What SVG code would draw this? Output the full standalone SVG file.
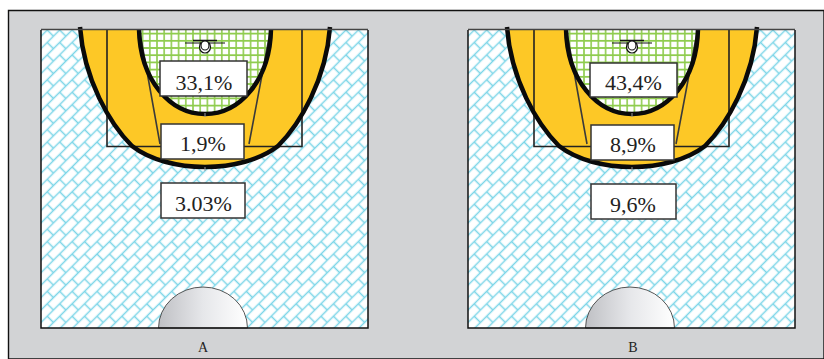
<svg xmlns="http://www.w3.org/2000/svg" xmlns:xlink="http://www.w3.org/1999/xlink" width="824" height="359" viewBox="0 0 824 359">
<style>
.box{fill:#fff;stroke:#333;stroke-width:1.5}
.pct{font-family:"Liberation Serif","Times New Roman",serif;font-size:22px;fill:#222;text-anchor:middle}
.cap{font-family:"Liberation Serif","Times New Roman",serif;font-size:14px;fill:#222;text-anchor:middle}
.thick{fill:none;stroke:#0a0a0a;stroke-width:4.5}
.thin{fill:none;stroke:#222;stroke-width:1.6}
.key{fill:none;stroke:#3a3a3a;stroke-width:1.6}
.tick{fill:none;stroke:#999;stroke-width:1}
</style>
<defs>
<pattern id="brick" width="17.6" height="17.6" patternUnits="userSpaceOnUse" patternTransform="translate(41 30) rotate(-45)">
<rect width="17.6" height="17.6" fill="#fff"/>
<path d="M0 4.400H17.600M0 13.200H17.600M4.400 4.400V13.200M13.200 13.200V22M13.200 -4.400V4.400" fill="none" stroke="#7dd6e8" stroke-width="1.5"/>
</pattern>
<pattern id="grid" width="7.2" height="7.2" patternUnits="userSpaceOnUse" patternTransform="translate(139 30)">
<rect width="7.2" height="7.2" fill="#fff"/>
<path d="M3.6 0V7.2M0 3.6H7.2" fill="none" stroke="#8fcc4e" stroke-width="1.6"/>
</pattern>
<linearGradient id="shade" x1="0" x2="1" y1="0" y2="0">
<stop offset="0" stop-color="#bfc0c4"/><stop offset="0.5" stop-color="#e6e7ea"/><stop offset="1" stop-color="#fff"/>
</linearGradient>
<g id="court">
<rect x="41" y="30" width="327" height="298" fill="url(#brick)"/>
<path d="M158.500 328A44.500 41 0 0 1 247.500 328Z" fill="url(#shade)" stroke="#555" stroke-width="1"/>
<path d="M80 29C84 80 110 124 132 146C150 160 178 167 205 167C232 167 260 160 278 146C300 124 326 80 330 29Z" fill="#fdc826"/>
<path d="M139 30C140 80 170 114 205 114C240 114 270 80 271 30Z" fill="url(#grid)"/>
<path class="thin" d="M107 30V146.500H302V30"/>
<path class="key" d="M139.500 30L160 144M270.500 30L249 144"/>
<path class="thick" d="M139 29C140 80 170 114 205 114C240 114 270 80 271 29"/>
<path class="thick" d="M80 27C84 80 110 124 132 146C150 160 178 167 205 167C232 167 260 160 278 146C300 124 326 80 330 27" stroke-width="5"/>
<path class="tick" d="M205 113V117M205 167V171"/>
<path d="M41 29.500H368" fill="none" stroke="#444" stroke-width="1.5"/>
<path d="M41 30V328H368V30" fill="none" stroke="#111" stroke-width="1.5"/>
<g id="hoop-shape">
<path d="M185 43H225" stroke="#111" stroke-width="1.2" fill="none"/>
<path d="M193 40.500H217" stroke="#111" stroke-width="1.5" fill="none"/>
<ellipse cx="205" cy="47" rx="5.500" ry="6" fill="#fff" stroke="#111" stroke-width="1.2"/>
<ellipse cx="205" cy="45.500" rx="4" ry="4.500" fill="#fff" stroke="#111" stroke-width="1.2"/>
</g>
</g>
</defs>
<rect width="824" height="359" fill="#fff"/>
<path d="M824 10.500H8.500V359H824Z" fill="#d2d3d5" stroke="#111" stroke-width="1.4"/>
<g id="court-a"><use href="#court"/></g>
<g id="court-b"><use href="#court" transform="translate(427)"/></g>
<g id="connectors"></g>
<g id="a-inner"><rect class="box" x="160" y="61" width="87" height="35"/><text class="pct" x="204" y="89.500">33,1%</text></g>
<g id="a-mid"><rect class="box" x="161" y="124" width="83" height="35"/><text class="pct" x="203" y="151">1,9%</text></g>
<g id="a-outer"><rect class="box" x="161" y="183" width="84" height="35"/><text class="pct" x="203.500" y="211">3.03%</text></g>
<g id="b-inner"><rect class="box" x="590" y="63" width="87" height="34"/><text class="pct" x="633.500" y="90">43,4%</text></g>
<g id="b-mid"><rect class="box" x="591" y="125" width="83" height="35"/><text class="pct" x="633" y="152">8,9%</text></g>
<g id="b-outer"><rect class="box" x="591" y="184" width="85" height="35"/><text class="pct" x="633" y="212">9,6%</text></g>
<g id="label-a"><text class="cap" x="203" y="352">A</text></g>
<g id="label-b"><text class="cap" x="633" y="352">B</text></g>
</svg>
